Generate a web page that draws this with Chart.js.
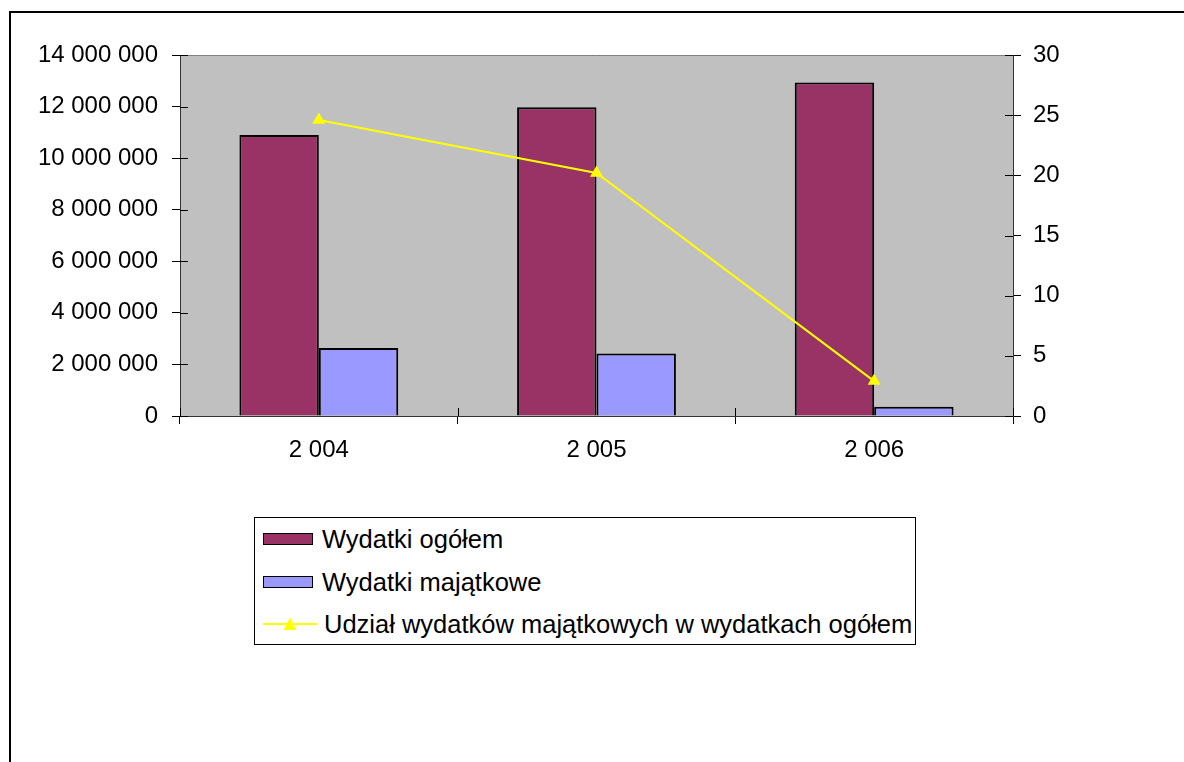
<!DOCTYPE html>
<html>
<head>
<meta charset="utf-8">
<script src="https://cdn.jsdelivr.net/npm/chart.js@4.4.1/dist/chart.umd.min.js"></script>
<style>
    body { margin: 0; background: #fff; overflow: hidden; font-family: "Liberation Sans", Arial, sans-serif; }
    #frame { position: absolute; left: 9px; top: 11px; width: 1300px; height: 900px; border-left: 2px solid #000; border-top: 2px solid #000; }
    #chart { position: absolute; left: 0; top: 0; }
    #legend { position: absolute; left: 254px; top: 517px; width: 660px; height: 126px; border: 1px solid #000; background: #fff; }
    .item { position: absolute; left: 8px; height: 30px; display: flex; align-items: center; font-size: 25.5px; color: #000; white-space: nowrap; }
    .swatch { width: 48px; height: 10px; border: 1.5px solid #000; margin-right: 9px; }
</style>
</head>
<body>
<div id="frame"></div>
<canvas id="chart" width="1184" height="762"></canvas>
<div id="legend"></div>
<script>
const years = ['2 004', '2 005', '2 006'];
const totalSpending = [10900000, 11970000, 12930000];
const capitalSpending = [2640000, 2420000, 360000];
const capitalShare = [24.6, 20.2, 2.9];

const seriesNames = ['Wydatki ogółem', 'Wydatki majątkowe', 'Udział wydatków majątkowych w wydatkach ogółem'];
const maroon = '#993366';
const lavender = '#9999FF';
const yellow = '#FFFF00';

function spaced(v) {
    return String(v).replace(/\B(?=(\d{3})+(?!\d))/g, ' ');
}

// gray plot area behind the bars
const plotBackground = {
    id: 'plotBackground',
    beforeDraw(chart) {
        const { ctx, chartArea: a } = chart;
        ctx.save();
        ctx.fillStyle = '#C0C0C0';
        ctx.fillRect(a.left, a.top, a.right - a.left, a.bottom - a.top);
        ctx.strokeStyle = '#808080';
        ctx.lineWidth = 1;
        ctx.beginPath();
        ctx.moveTo(a.left, a.top + 0.5);
        ctx.lineTo(a.right, a.top + 0.5);
        ctx.stroke();
        ctx.restore();
    }
};

// Excel style ticks cross the axis, so add the inner half
const crossTicks = {
    id: 'crossTicks',
    afterDraw(chart) {
        const { ctx, scales } = chart;
        ctx.save();
        ctx.strokeStyle = '#000';
        ctx.lineWidth = 1;
        ctx.beginPath();
        const x = scales.x;
        const step = (x.right - x.left) / years.length;
        for (let i = 0; i <= years.length; i++) {
            const px = Math.round(x.left + i * step) + 0.5;
            ctx.moveTo(px, x.top - 8);
            ctx.lineTo(px, x.top);
        }
        const y = scales.y;
        y.ticks.forEach(t => {
            const py = Math.round(y.getPixelForValue(t.value)) + 0.5;
            ctx.moveTo(y.right, py);
            ctx.lineTo(y.right + 8, py);
        });
        const y1 = scales.y1;
        y1.ticks.forEach(t => {
            const py = Math.round(y1.getPixelForValue(t.value)) + 0.5;
            ctx.moveTo(y1.left - 8, py);
            ctx.lineTo(y1.left, py);
        });
        ctx.stroke();
        ctx.restore();
    }
};

const tickFont = { family: '"Liberation Sans", Arial, sans-serif', size: 24 };

new Chart(document.getElementById('chart'), {
    data: {
        labels: years,
        datasets: [
            {
                type: 'line',
                label: seriesNames[2],
                data: capitalShare,
                yAxisID: 'y1',
                borderColor: yellow,
                backgroundColor: yellow,
                borderWidth: 2,
                pointStyle: 'triangle',
                pointRadius: 7.5,
                pointBorderWidth: 0,
                tension: 0,
                order: 0
            },
            {
                type: 'bar',
                label: seriesNames[0],
                data: totalSpending,
                yAxisID: 'y',
                backgroundColor: maroon,
                borderColor: '#000',
                borderWidth: 2,
                barPercentage: 1,
                categoryPercentage: 0.572,
                order: 1
            },
            {
                type: 'bar',
                label: seriesNames[1],
                data: capitalSpending,
                yAxisID: 'y',
                backgroundColor: lavender,
                borderColor: '#000',
                borderWidth: 2,
                barPercentage: 1,
                categoryPercentage: 0.572,
                order: 2
            }
        ]
    },
    options: {
        responsive: false,
        animation: false,
        layout: { padding: { top: 55, left: 0, right: 111, bottom: 296 } },
        plugins: {
            legend: { display: false },
            tooltip: { enabled: false }
        },
        scales: {
            x: {
                afterFit: s => { s.height = 50; },
                grid: { offset: true, drawOnChartArea: false, color: '#000', tickLength: 8 },
                border: { color: '#333', width: 1 },
                ticks: { color: '#000', font: tickFont, padding: 12 }
            },
            y: {
                position: 'left',
                min: 0,
                max: 14000000,
                afterFit: s => { s.width = 180; },
                grid: { drawOnChartArea: false, color: '#000', tickLength: 8 },
                border: { color: '#333', width: 1 },
                ticks: { stepSize: 2000000, color: '#000', font: tickFont, padding: 14, callback: v => spaced(v) }
            },
            y1: {
                position: 'right',
                min: 0,
                max: 30,
                afterFit: s => { s.width = 60; },
                grid: { drawOnChartArea: false, color: '#000', tickLength: 8 },
                border: { color: '#333', width: 1 },
                ticks: { stepSize: 5, color: '#000', font: tickFont, padding: 12 }
            }
        }
    },
    plugins: [plotBackground, crossTicks]
});

// legend box under the plot
const legend = document.getElementById('legend');
const rows = [
    { name: seriesNames[0], kind: 'bar', color: maroon, top: 6 },
    { name: seriesNames[1], kind: 'bar', color: lavender, top: 49 },
    { name: seriesNames[2], kind: 'line', color: yellow, top: 91 }
];
rows.forEach(r => {
    const item = document.createElement('div');
    item.className = 'item';
    item.style.top = r.top + 'px';
    let mark;
    if (r.kind === 'bar') {
        mark = `<div class="swatch" style="background:${r.color}"></div>`;
    } else {
        mark = `<svg width="56" height="16" style="margin-right:5px"><line x1="0" y1="8" x2="54" y2="8" stroke="${r.color}" stroke-width="2"/><polygon points="27,1.5 33.5,14 20.5,14" fill="${r.color}"/></svg>`;
    }
    item.innerHTML = mark + `<span>${r.name}</span>`;
    legend.appendChild(item);
});
</script>
</body>
</html>
